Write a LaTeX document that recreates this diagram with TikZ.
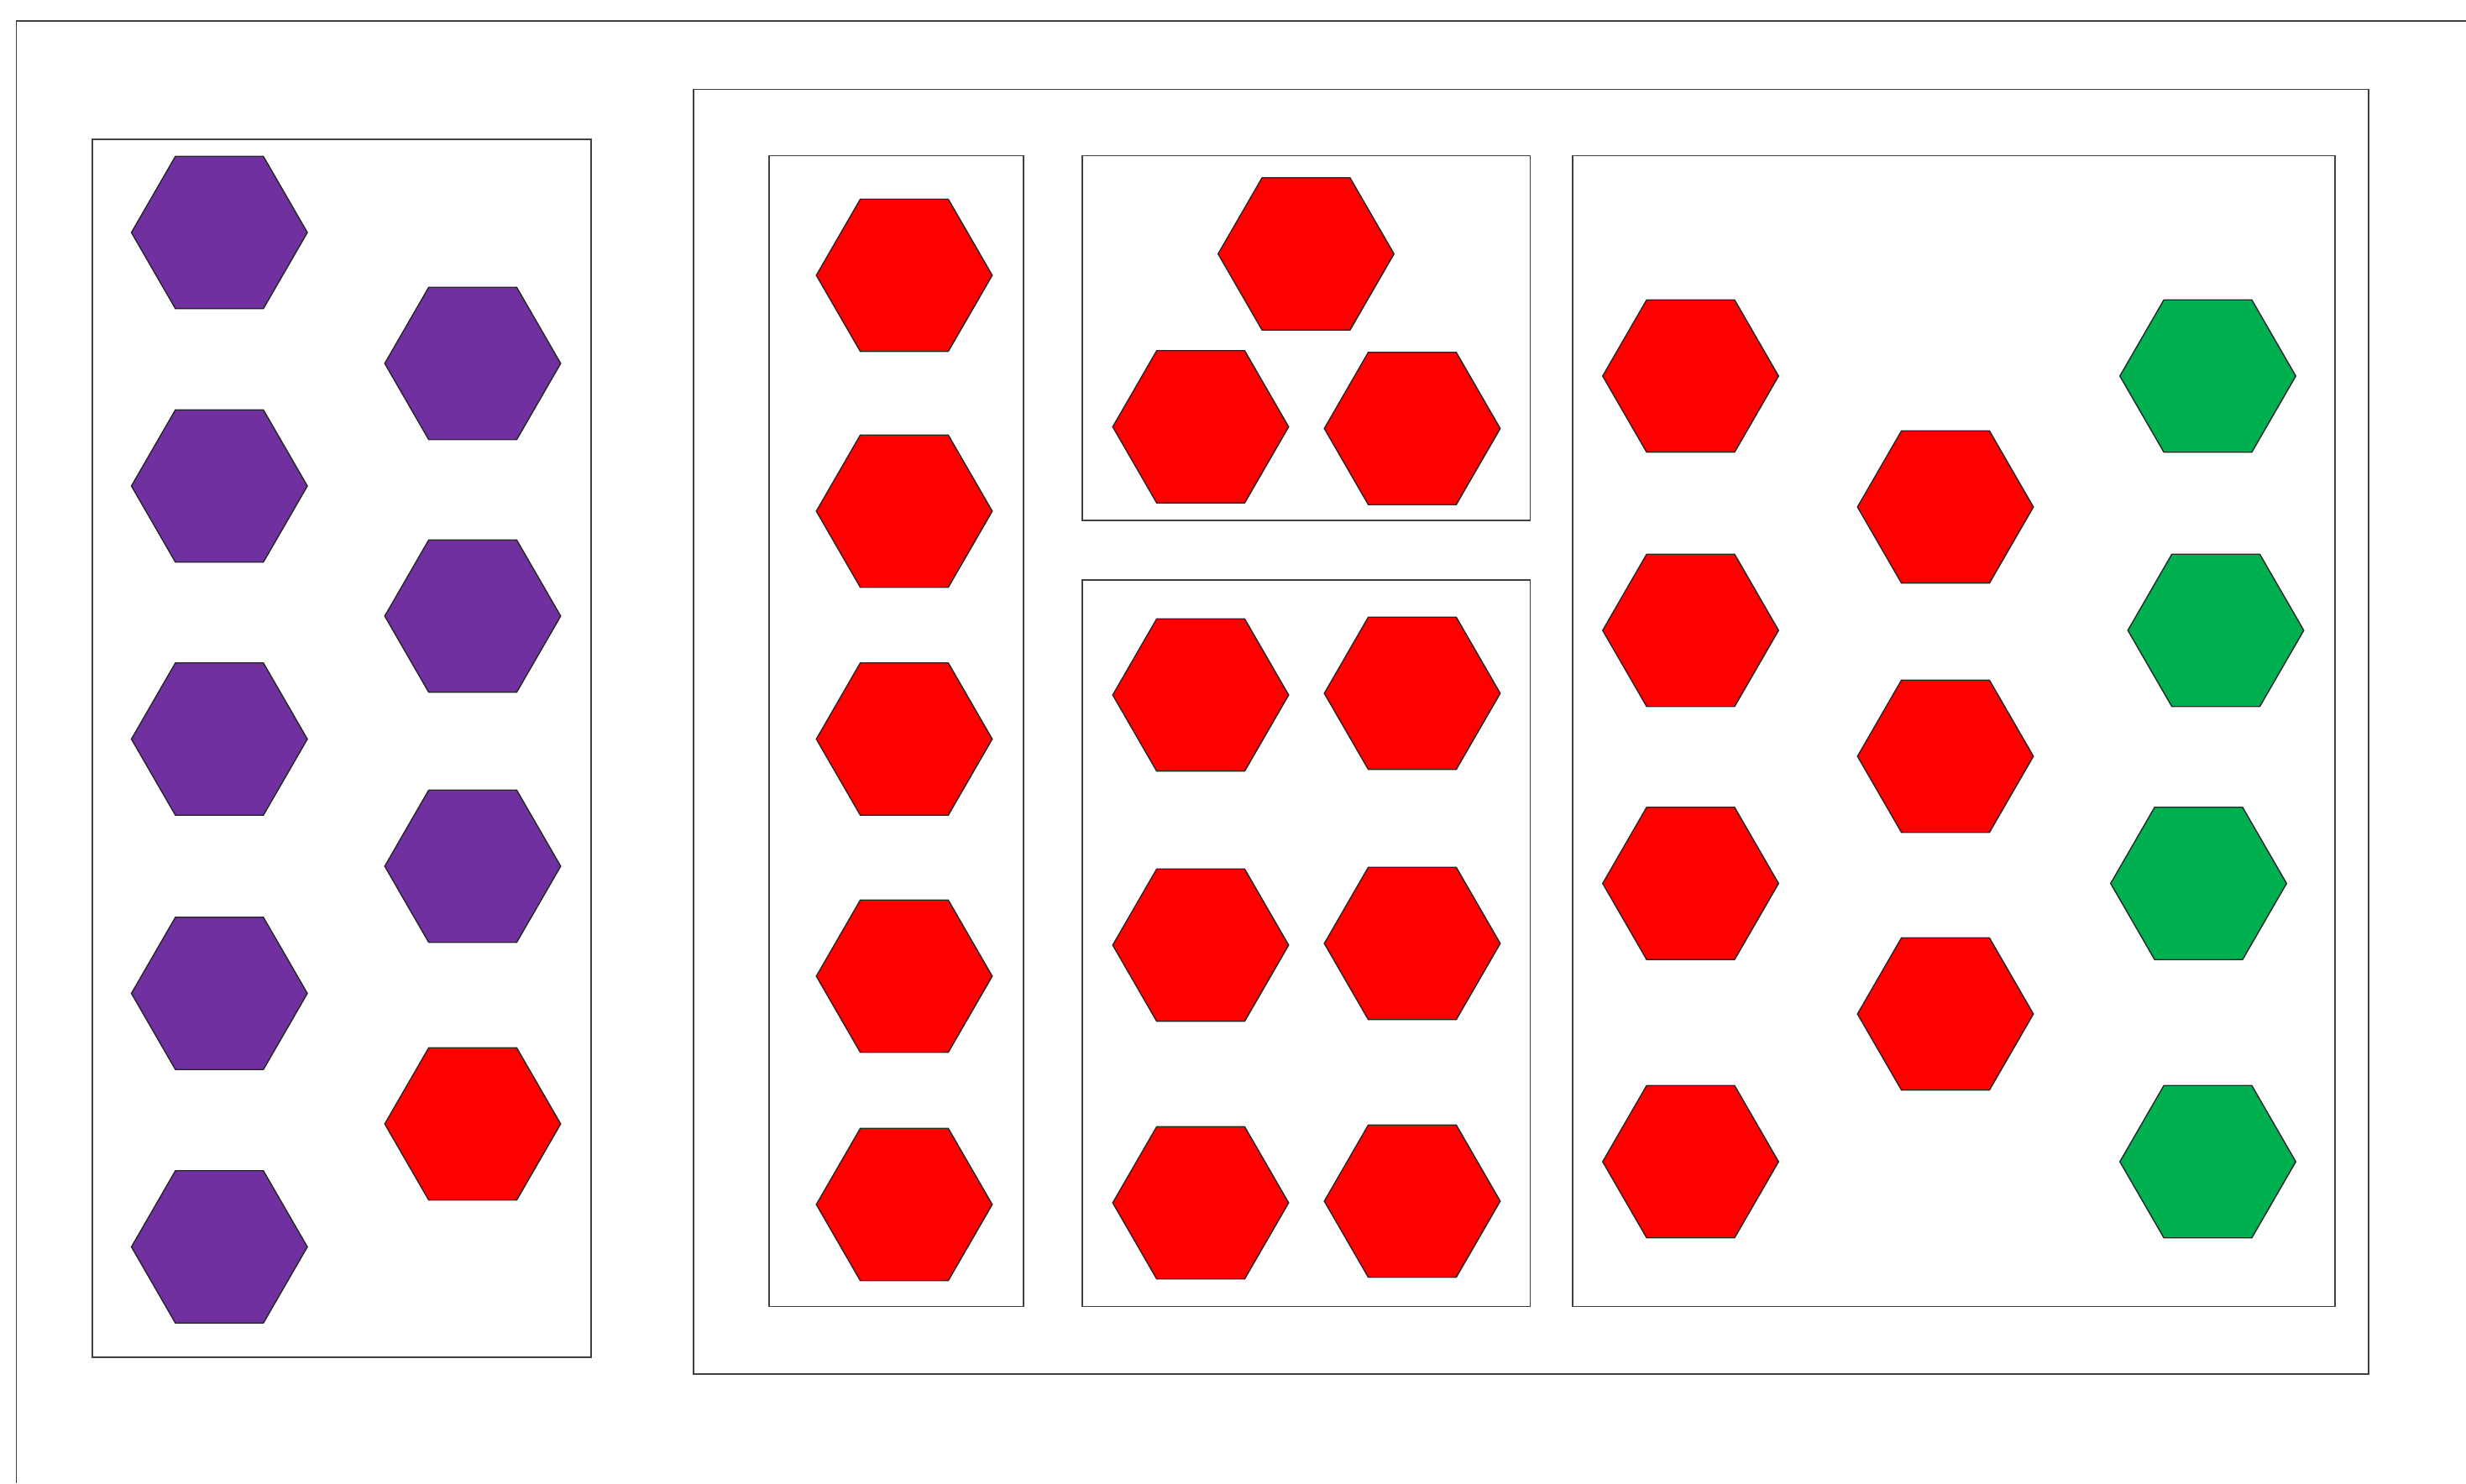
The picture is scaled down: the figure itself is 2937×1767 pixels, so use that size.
\documentclass[tikz,border=0pt]{standalone}
\usetikzlibrary{shapes.geometric}
\definecolor{hpurple}{HTML}{7030A0}
\definecolor{hred}{HTML}{FF0000}
\definecolor{hgreen}{HTML}{00B050}
\tikzset{
  frame/.style={draw=black!75, line width=0.55pt},
  hexa/.style={regular polygon, regular polygon sides=6, minimum size=2.094cm,
    inner sep=0pt, outer sep=0pt, draw=black!85, line width=0.4pt},
  hp/.style={hexa, fill=hpurple},
  hr/.style={hexa, fill=hred},
  hg/.style={hexa, fill=hgreen}
}
\begin{document}
\begin{tikzpicture}[x=0.01cm, y=-0.01cm]
\useasboundingbox (0,0) rectangle (2937,1767);
% outer partial frame
\coordinate (ofb) at (19.5,1767);
\coordinate (oftl) at (19.5,25);
\coordinate (ofr) at (2937,25);
\draw[frame] (ofb) -- (oftl) -- (ofr);
% boxes
\draw[frame] (110,166) rectangle (704,1617);
\draw[frame] (826,106.5) rectangle (2821,1637);
\draw[frame] (916,185.5) rectangle (1219,1556.5);
\draw[frame] (1289,185.5) rectangle (1822.5,620);
\draw[frame] (1289,691) rectangle (1822.5,1556.5);
\draw[frame] (1873,185.5) rectangle (2781,1556.5);
% left box hexagons
\node[hp] (p1) at (261.3,277) {};
\node[hp] (p2) at (261.3,579) {};
\node[hp] (p3) at (261.3,880.5) {};
\node[hp] (p4) at (261.3,1183.5) {};
\node[hp] (p5) at (261.3,1485.5) {};
\node[hp] (p6) at (563,433) {};
\node[hp] (p7) at (563,734) {};
\node[hp] (p8) at (563,1032) {};
\node[hr] (p9) at (563,1339) {};
% box A
\node[hr] (a1) at (1077,328) {};
\node[hr] (a2) at (1077,609) {};
\node[hr] (a3) at (1077,880.5) {};
\node[hr] (a4) at (1077,1163) {};
\node[hr] (a5) at (1077,1435) {};
% box B
\node[hr] (b1) at (1555.5,302.5) {};
\node[hr] (b2) at (1430,508.5) {};
\node[hr] (b3) at (1682,510.5) {};
% box C
\node[hr] (c1) at (1430,828) {};
\node[hr] (c2) at (1682,826) {};
\node[hr] (c3) at (1430,1126) {};
\node[hr] (c4) at (1682,1124) {};
\node[hr] (c5) at (1430,1433) {};
\node[hr] (c6) at (1682,1431) {};
% box D
\node[hr] (d1) at (2013.5,448) {};
\node[hr] (d2) at (2013.5,751) {};
\node[hr] (d3) at (2013.5,1052.5) {};
\node[hr] (d4) at (2013.5,1384) {};
\node[hr] (d5) at (2317,604) {};
\node[hr] (d6) at (2317,901) {};
\node[hr] (d7) at (2317,1208) {};
\node[hg] (g1) at (2629.5,448) {};
\node[hg] (g2) at (2639,751) {};
\node[hg] (g3) at (2618.5,1052.5) {};
\node[hg] (g4) at (2629.5,1384) {};
\end{tikzpicture}
\end{document}
